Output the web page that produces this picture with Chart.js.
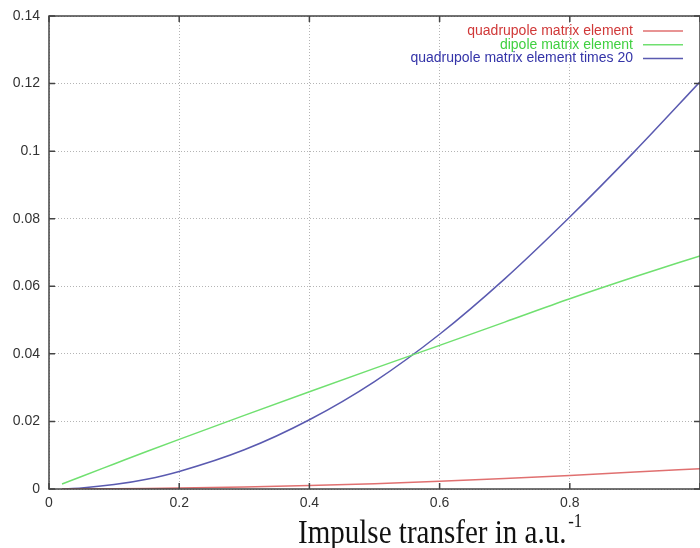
<!DOCTYPE html>
<html>
<head>
<meta charset="utf-8">
<script src="https://cdn.jsdelivr.net/npm/chart.js@4/dist/chart.umd.min.js"></script>
<style>
  html, body { margin: 0; padding: 0; background: #fff; }
  #chart { display: block; }
</style>
</head>
<body>
<canvas id="chart" width="700" height="548"></canvas>
<script>
// impulse transfer values (a.u.^-1)
var impulse = [0.02, 0.05, 0.1, 0.15, 0.2, 0.3, 0.4, 0.5, 0.6, 0.7, 0.8, 0.9, 1.0];

var quadrupole = [0, 0.00002, 0.00007, 0.00015, 0.00026, 0.00058, 0.00103, 0.00159, 0.00229, 0.00311, 0.00403, 0.00500, 0.00603];
var dipole = [0.0015, 0.0037, 0.0074, 0.0111, 0.0147, 0.0218, 0.0288, 0.0357, 0.0425, 0.0494, 0.0563, 0.0628, 0.0690];
var quadrupoleTimes20 = [0, 0.0003, 0.0013, 0.0029, 0.0052, 0.0116, 0.0205, 0.0318, 0.0458, 0.0622, 0.0805, 0.1000, 0.1205];

var seriesLabels = ["quadrupole matrix element", "dipole matrix element", "quadrupole matrix element times 20"];
var lineColors = ["#e07070", "#70e070", "#5a5ab0"];
var textColors = ["#d03838", "#40d040", "#3434a8"];

var xTicks = [0, 0.2, 0.4, 0.6, 0.8, 1];
var yTicks = [0, 0.02, 0.04, 0.06, 0.08, 0.1, 0.12, 0.14];

function toPoints(values) {
    return impulse.map(function (x, i) {
        return {x: x, y: values[i]};
    });
}

function tickText(v) {
    return String(Number(v.toFixed(2)));
}

// gnuplot style frame, inward ticks, legend and axis title
var gnuplotDecor = {
    id: 'gnuplotDecor',
    afterDraw: function (chart) {
        var ctx = chart.ctx;
        var area = chart.chartArea;
        var xs = chart.scales.x;
        var ys = chart.scales.y;
        var tickLen = 6;

        ctx.save();
        ctx.strokeStyle = '#444';
        ctx.lineWidth = 1.5;
        ctx.strokeRect(area.left, area.top, area.right - area.left, area.bottom - area.top);

        ctx.beginPath();
        xTicks.forEach(function (v) {
            var px = xs.getPixelForValue(v);
            ctx.moveTo(px, area.bottom);
            ctx.lineTo(px, area.bottom - tickLen);
            ctx.moveTo(px, area.top);
            ctx.lineTo(px, area.top + tickLen);
        });
        yTicks.forEach(function (v) {
            var py = ys.getPixelForValue(v);
            ctx.moveTo(area.left, py);
            ctx.lineTo(area.left + tickLen, py);
            ctx.moveTo(area.right, py);
            ctx.lineTo(area.right - tickLen, py);
        });
        ctx.stroke();

        // legend, text on the left of the sample line
        ctx.font = '14px "Liberation Sans", Arial, sans-serif';
        ctx.textAlign = 'right';
        ctx.textBaseline = 'middle';
        chart.data.datasets.forEach(function (ds, i) {
            var y = 31 + i * 13.8;
            ctx.fillStyle = textColors[i];
            ctx.fillText(ds.label, 633, y);
            ctx.strokeStyle = ds.borderColor;
            ctx.lineWidth = 1.5;
            ctx.beginPath();
            ctx.moveTo(643, y);
            ctx.lineTo(683, y);
            ctx.stroke();
        });

        // x axis title
        ctx.translate(298, 543);
        ctx.scale(0.88, 1);
        ctx.fillStyle = '#111';
        ctx.textAlign = 'left';
        ctx.textBaseline = 'alphabetic';
        ctx.font = '33px "Liberation Serif", "Times New Roman", serif';
        var main = 'Impulse transfer in a.u.';
        ctx.fillText(main, 0, 0);
        var w = ctx.measureText(main).width;
        ctx.font = '19px "Liberation Serif", "Times New Roman", serif';
        ctx.fillText('-1', w + 2, -16);
        ctx.restore();
    }
};

new Chart(document.getElementById('chart'), {
    type: 'line',
    data: {
        datasets: [
            {label: seriesLabels[0], data: toPoints(quadrupole), borderColor: lineColors[0]},
            {label: seriesLabels[1], data: toPoints(dipole), borderColor: lineColors[1]},
            {label: seriesLabels[2], data: toPoints(quadrupoleTimes20), borderColor: lineColors[2]}
        ]
    },
    plugins: [gnuplotDecor],
    options: {
        responsive: false,
        animation: false,
        layout: {padding: {top: 16, right: 0, left: 0, bottom: 0}},
        elements: {
            line: {borderWidth: 1.5, cubicInterpolationMode: 'monotone', fill: false},
            point: {radius: 0, hoverRadius: 0}
        },
        plugins: {
            legend: {display: false},
            tooltip: {enabled: false}
        },
        scales: {
            x: {
                type: 'linear',
                min: 0,
                max: 1,
                afterBuildTicks: function (scale) {
                    scale.ticks = xTicks.map(function (v) { return {value: v}; });
                },
                afterFit: function (scale) {
                    scale.height = 59;
                    scale.paddingLeft = 0;
                    scale.paddingRight = 0;
                },
                ticks: {
                    padding: 6,
                    maxRotation: 0,
                    color: '#333',
                    font: {family: '"Liberation Sans", Arial, sans-serif', size: 14},
                    callback: function (v) { return v === 1 ? '' : tickText(v); }
                },
                grid: {drawTicks: false, color: '#b4b4b4', lineWidth: 1},
                border: {display: false, dash: [1, 2]}
            },
            y: {
                min: 0,
                max: 0.14,
                afterBuildTicks: function (scale) {
                    scale.ticks = yTicks.map(function (v) { return {value: v}; });
                },
                afterFit: function (scale) {
                    scale.width = 49;
                    scale.paddingTop = 0;
                    scale.paddingBottom = 0;
                },
                ticks: {
                    padding: 9,
                    color: '#333',
                    font: {family: '"Liberation Sans", Arial, sans-serif', size: 14},
                    callback: function (v) { return tickText(v); }
                },
                grid: {drawTicks: false, color: '#b4b4b4', lineWidth: 1},
                border: {display: false, dash: [1, 2]}
            }
        }
    }
});
</script>
</body>
</html>
